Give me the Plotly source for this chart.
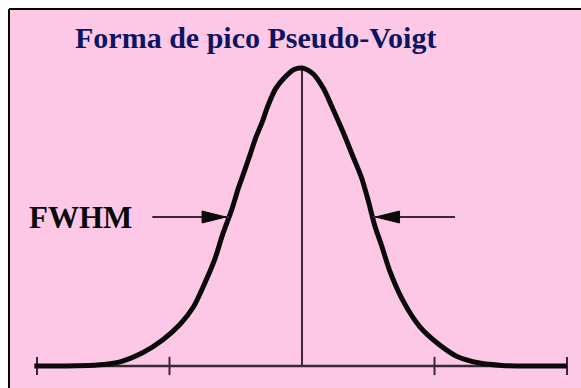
import numpy as np
import plotly.graph_objects as go

# Pseudo-Voigt peak profile (normalised intensity vs. position in FWHM-scale units)
peak_x = [-2.02, -1.80, -1.55, -1.38, -1.20, -1.05, -0.92, -0.82, -0.75, -0.66,
          -0.60, -0.53, -0.48, -0.43, -0.39, -0.35, -0.30, -0.26, -0.20, -0.14,
          -0.06, 0.00, 0.08, 0.16, 0.23, 0.31, 0.38, 0.45, 0.50, 0.55,
          0.60, 0.66, 0.76, 0.89, 1.02, 1.17, 1.34, 1.51, 1.75, 2.00]
peak_y = [0.000, 0.000, 0.003, 0.013, 0.045, 0.088, 0.140, 0.198, 0.262, 0.356,
          0.440, 0.525, 0.597, 0.660, 0.712, 0.765, 0.819, 0.870, 0.930, 0.964,
          0.995, 1.000, 0.982, 0.933, 0.866, 0.785, 0.708, 0.631, 0.555, 0.470,
          0.405, 0.322, 0.221, 0.131, 0.077, 0.032, 0.010, 0.002, 0.000, 0.000]

tick_positions = [-2, -1, 1, 2]
baseline_x = [-2, 2]
title_text = "Forma de pico Pseudo-Voigt"
fwhm_label = "FWHM"
arrow_tails = [-1.13, 1.155]

W, H = 581, 388
PINK = "#fdc8e6"
INK = "#0a0a0a"
AXIS_INK = "#3a2838"

px = np.array(peak_x)
py = np.array(peak_y)
imax = int(np.argmax(py))
half = py[imax] / 2.0
# half-maximum crossings on each flank
left_half = float(np.interp(half, py[:imax + 1], px[:imax + 1]))
right_half = float(np.interp(half, py[imax:][::-1], px[imax:][::-1]))

fig = go.Figure()

# baseline
fig.add_trace(go.Scatter(x=baseline_x, y=[0, 0], mode="lines",
                         line=dict(color=AXIS_INK, width=2.5), hoverinfo="skip"))
# tick marks
fig.add_trace(go.Scatter(x=tick_positions, y=[0] * len(tick_positions), mode="markers",
                         marker=dict(symbol="line-ns", size=13,
                                     line=dict(color=AXIS_INK, width=2)),
                         hoverinfo="skip"))
# centre line from peak down to baseline
fig.add_trace(go.Scatter(x=[px[imax], px[imax]], y=[0, py[imax]], mode="lines",
                         line=dict(color=AXIS_INK, width=2), hoverinfo="skip"))
# the peak profile
fig.add_trace(go.Scatter(x=peak_x, y=peak_y, mode="lines",
                         line=dict(color=INK, width=5, shape="spline", smoothing=0.8),
                         hoverinfo="skip"))

shapes = [
    # pink panel with black top/left edges
    dict(type="rect", xref="paper", yref="paper", x0=9 / W, x1=1.01, y0=-0.01, y1=1 - 9 / H,
         fillcolor=PINK, line=dict(width=0), layer="below"),
    dict(type="line", xref="paper", yref="paper", x0=9 / W, x1=1.01, y0=1 - 9 / H, y1=1 - 9 / H,
         line=dict(color="black", width=2), layer="below"),
    dict(type="line", xref="paper", yref="paper", x0=9 / W, x1=9 / W, y0=-0.01, y1=1 - 9 / H,
         line=dict(color="black", width=2), layer="below"),
]

# FWHM arrows pointing at the half-maximum crossings
for tail, tip, sgn in [(arrow_tails[0], left_half, 1), (arrow_tails[1], right_half, -1)]:
    shapes.append(dict(type="line", xref="x", yref="y", x0=tail, x1=tip, y0=half, y1=half,
                       line=dict(color=AXIS_INK, width=2)))
    head = "M {a},0 L {b},6 L {b},-6 Z".format(a=-3 * sgn, b=-27 * sgn)
    shapes.append(dict(type="path", xref="x", yref="y", xsizemode="pixel", ysizemode="pixel",
                       xanchor=tip, yanchor=half, path=head,
                       fillcolor=INK, line=dict(color=INK, width=1)))

fig.update_layout(
    width=W, height=H,
    margin=dict(l=0, r=0, t=0, b=0),
    paper_bgcolor="white", plot_bgcolor="rgba(0,0,0,0)",
    showlegend=False,
    xaxis=dict(range=[-302 / 132.5, 279 / 132.5], visible=False, fixedrange=True),
    yaxis=dict(range=[-22 / 298, 366 / 298], visible=False, fixedrange=True),
    shapes=shapes,
    annotations=[
        dict(text="<b>" + title_text + "</b>", xref="paper", yref="paper",
             x=255 / W, y=1 - 37 / H, xanchor="center", yanchor="middle", showarrow=False,
             font=dict(family="Liberation Serif, Times New Roman, serif", size=30,
                       color="#0c1660")),
        dict(text="<b>" + fwhm_label + "</b>", xref="paper", yref="y",
             x=27 / W, y=half, xanchor="left", yanchor="middle", showarrow=False,
             font=dict(family="Liberation Serif, Times New Roman, serif", size=31,
                       color=INK)),
    ],
)

fig.write_html("out.html")
